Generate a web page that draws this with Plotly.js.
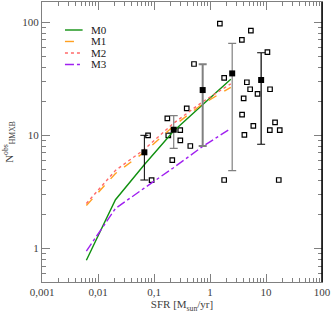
<!DOCTYPE html>
<html>
<head>
<meta charset="utf-8">
<script src="https://cdn.plot.ly/plotly-3.0.1.min.js"></script>
<style>html,body{margin:0;padding:0;background:#fff;}#chart{width:332px;height:313px;}</style>
</head>
<body>
<div id="chart"></div>
<script>
// Observed galaxies (open squares)
const obsSFR = [1.50, 5.37, 3.71, 10.6, 0.518, 1.79, 4.55, 5.21, 11.8, 7.06, 3.99, 0.384, 3.74, 0.173,
  14.5, 5.94, 0.294, 11.7, 17.6, 0.0783, 0.180, 4.11, 0.295, 0.445, 0.212, 0.0906, 1.79, 16.9];
const obsN = [97, 84, 69.7, 54.3, 42.6, 32.2, 29.4, 25.5, 25.5, 23.2, 21.2, 17.3, 15.2, 14.1,
  13.0, 12.1, 11.1, 11.1, 11.1, 10.0, 10.0, 10.1, 9.04, 8.05, 6.05, 4.02, 4.03, 4.03];

// Binned averages (filled squares) with error bars
const binSFR = [0.0673, 0.225, 0.740, 2.49, 8.19];
const binN = [7.08, 11.2, 25.1, 35.2, 30.8];
const binHigh = [10.0, 14.9, 42.3, 64.9, 53.6];
const binLow = [4.03, 7.67, 8.05, 4.87, 8.34];
const binBarColor = ['#000000', '#808080', '#808080', '#808080', '#000000'];
const binBarWidth = [1, 1.2, 2, 1.2, 1.2];

// Model curves
const modelSFR = [0.0062, 0.0205, 0.067, 0.22, 0.72, 2.35];
const M0 = [0.79, 2.70, 5.5, 10.8, 18.4, 31.2];
const M1 = [2.4, 4.6, 7.1, 12.0, 18.8, 26.5];
const M2 = [2.5, 4.9, 7.5, 12.7, 19.6, 28.5];
const M3 = [0.95, 2.26, 3.42, 5.15, 7.9, 11.5];
const modelNames = ['M0', 'M1', 'M2', 'M3'];

const xTickVals = [0.001, 0.01, 0.1, 1, 10, 100];
const xTickText = ['0,001', '0,01', '0,1', '1', '10', '100'];
const yTickVals = [1, 10, 100];
const yTickText = ['1', '10', '100'];

const FONT = 'Liberation Serif, Times New Roman, serif';
const traces = [];

traces.push({
  x: obsSFR, y: obsN, type: 'scatter', mode: 'markers', showlegend: false,
  marker: {symbol: 'square-open', size: 4.5, color: '#000', line: {width: 1.2, color: '#000'}},
  hoverinfo: 'skip'
});

const modelSeries = [M0, M1, M2, M3];
const modelStyle = [
  {color: '#109010', dash: 'solid'},
  {color: '#ffa020', dash: 'dash'},
  {color: '#ff6a6a', dash: 'dot'},
  {color: '#a020f0', dash: 'dashdot'}
];
modelSeries.forEach((ys, i) => traces.push({
  x: modelSFR, y: ys, type: 'scatter', mode: 'lines', name: modelNames[i], showlegend: false,
  line: {color: modelStyle[i].color, dash: modelStyle[i].dash, width: 1.4}
}));

binSFR.forEach((s, i) => traces.push({
  x: [s], y: [binN[i]], type: 'scatter', mode: 'markers', showlegend: false,
  marker: {symbol: 'square', size: 6, color: '#000'},
  error_y: {type: 'data', symmetric: false, array: [binHigh[i] - binN[i]], arrayminus: [binN[i] - binLow[i]],
    color: binBarColor[i], thickness: binBarWidth[i], width: 4}
}));

// Compact legend (key lines + labels) in the upper-left corner
const shapes = [{type: 'line', xref: 'paper', yref: 'paper', x0: 1, x1: 1, y0: 0, y1: 1,
  line: {color: '#000', width: 1.5}}];
const annotations = [];
const legX0 = 0.082, legX1 = 0.145, legTextX = 0.168, legY0 = 0.9, legDY = 0.041;
modelNames.forEach((n, i) => {
  const yy = legY0 - i * legDY;
  shapes.push({type: 'line', xref: 'paper', yref: 'paper', x0: legX0, x1: legX1, y0: yy, y1: yy,
    line: {color: modelStyle[i].color, dash: modelStyle[i].dash, width: 1.4}});
  annotations.push({xref: 'paper', yref: 'paper', x: legTextX, y: yy, xanchor: 'left', yanchor: 'middle',
    text: n, showarrow: false, font: {family: FONT, size: 11, color: '#202020'}});
});

const axCommon = {
  type: 'log', showgrid: false, zeroline: false, showline: true, linecolor: '#808080', linewidth: 1,
  mirror: 'allticks', ticks: 'inside', ticklen: 8, tickcolor: '#808080', tickwidth: 1,
  tickfont: {family: FONT, size: 11, color: '#404040'},
  minor: {ticks: 'inside', ticklen: 4, tickcolor: '#808080', dtick: 'D1', showgrid: false}
};

const layout = {
  width: 332, height: 313,
  margin: {l: 42, r: 10, t: 2, b: 31},
  paper_bgcolor: '#fff', plot_bgcolor: '#fff',
  font: {family: FONT, size: 11, color: '#404040'},
  xaxis: Object.assign({}, axCommon, {
    range: [-3, 2], tickmode: 'array', tickvals: xTickVals, ticktext: xTickText,
    title: {text: 'SFR [M<sub>sun</sub>/yr]', font: {family: FONT, size: 11, color: '#404040'}, standoff: 2}
  }),
  yaxis: Object.assign({}, axCommon, {
    range: [-0.295, 2.177], tickmode: 'array', tickvals: yTickVals, ticktext: yTickText,
    title: {text: 'N<sup>obs</sup><sub>HMXB</sub>', font: {family: FONT, size: 11, color: '#404040'}, standoff: 6}
  }),
  shapes: shapes,
  annotations: annotations,
  showlegend: false
};

Plotly.newPlot('chart', traces, layout, {displayModeBar: false, staticPlot: true});
</script>
</body>
</html>
